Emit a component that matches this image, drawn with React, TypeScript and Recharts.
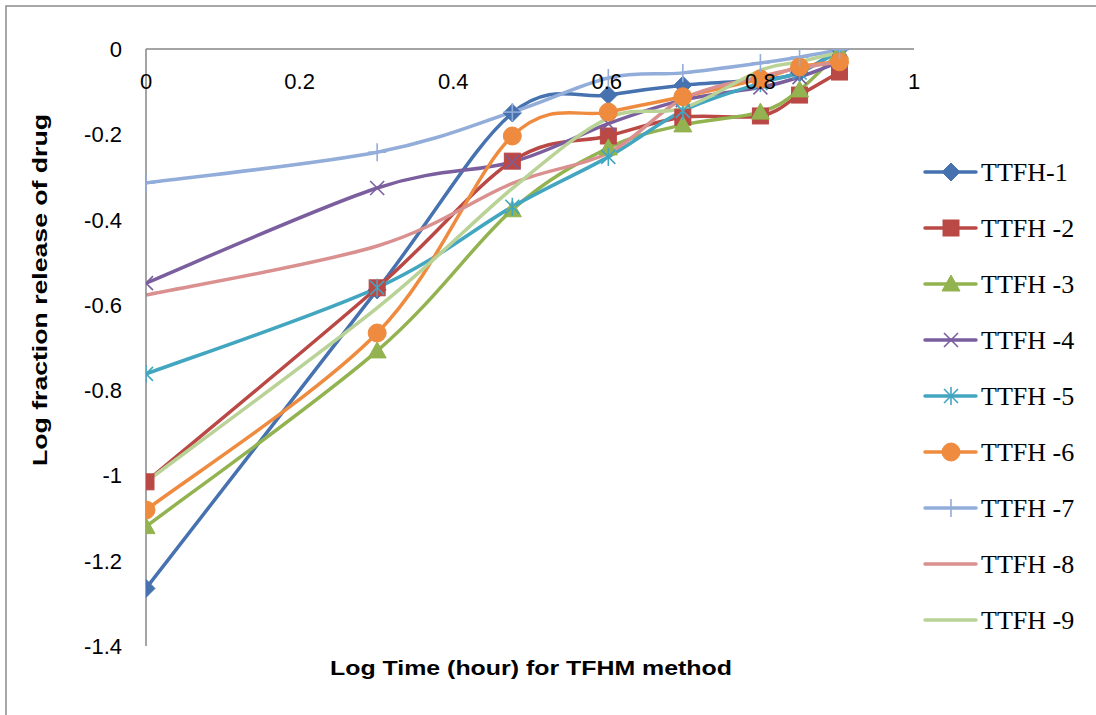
import React from 'react';
import { LineChart, Line, XAxis, YAxis, Legend } from 'recharts';

// ---- data ----
const logTime: number[] = [0, 0.301, 0.477, 0.602, 0.699, 0.8, 0.851, 0.903];
const ttfh1: number[] = [-1.265, -0.565, -0.15, -0.108, -0.085, -0.072, -0.055, 0];
const ttfh2: number[] = [-1.015, -0.56, -0.263, -0.204, -0.16, -0.157, -0.108, -0.054];
const ttfh3: number[] = [-1.12, -0.708, -0.377, -0.232, -0.178, -0.148, -0.096, -0.006];
const ttfh4: number[] = [-0.549, -0.326, -0.265, -0.175, -0.12, -0.09, -0.066, -0.03];
const ttfh5: number[] = [-0.762, -0.56, -0.37, -0.253, -0.145, -0.08, -0.055, -0.005];
const ttfh6: number[] = [-1.081, -0.666, -0.204, -0.148, -0.112, -0.07, -0.042, -0.03];
const ttfh7: number[] = [-0.314, -0.242, -0.148, -0.068, -0.056, -0.033, -0.019, -0.002];
const ttfh8: number[] = [-0.577, -0.462, -0.315, -0.244, -0.117, -0.065, -0.045, -0.03];
const ttfh9: number[] = [-1.015, -0.607, -0.327, -0.162, -0.139, -0.05, -0.03, -0.008];

const xTicks: number[] = [0, 0.2, 0.4, 0.6, 0.8, 1];
const yTicks: number[] = [0, -0.2, -0.4, -0.6, -0.8, -1, -1.2, -1.4];

const seriesNames: string[] = ['TTFH-1', 'TTFH -2', 'TTFH -3', 'TTFH -4', 'TTFH -5', 'TTFH -6', 'TTFH -7', 'TTFH -8', 'TTFH -9'];
const seriesValues: number[][] = [ttfh1, ttfh2, ttfh3, ttfh4, ttfh5, ttfh6, ttfh7, ttfh8, ttfh9];
const seriesColors: string[] = ['#4672B0', '#BA4845', '#92B34F', '#7A5E9E', '#43A6C1', '#EE8B3E', '#92ADD9', '#D9908F', '#B9D296'];
const seriesShapes: string[] = ['diamond', 'square', 'triangle', 'x', 'asterisk', 'circle', 'plus', 'none', 'none'];

const rows = logTime.map((x, i) => {
  const r: Record<string, number> = { x };
  seriesValues.forEach((vals, s) => {
    r['s' + s] = vals[i];
  });
  return r;
});

// Excel-like smoothed curve (Catmull-Rom as cubic Beziers)
const excelSmooth = (context: any) => {
  let pts: number[][] = [];
  return {
    areaStart() {},
    areaEnd() {},
    lineStart() {
      pts = [];
    },
    point(x: number, y: number) {
      pts.push([+x, +y]);
    },
    lineEnd() {
      const n = pts.length;
      if (!n) return;
      context.moveTo(pts[0][0], pts[0][1]);
      for (let i = 0; i < n - 1; i++) {
        const p0 = pts[i - 1] || pts[i];
        const p1 = pts[i];
        const p2 = pts[i + 1];
        const p3 = pts[i + 2] || p2;
        context.bezierCurveTo(
          p1[0] + (p2[0] - p0[0]) / 6,
          p1[1] + (p2[1] - p0[1]) / 6,
          p2[0] - (p3[0] - p1[0]) / 6,
          p2[1] - (p3[1] - p1[1]) / 6,
          p2[0],
          p2[1]
        );
      }
    },
  };
};

const MarkerShape = ({ shape, cx, cy, color }: { shape: string; cx: number; cy: number; color: string }) => {
  if (cx == null || cy == null || isNaN(cx) || isNaN(cy)) return null;
  switch (shape) {
    case 'diamond':
      return <polygon points={`${cx},${cy - 9} ${cx + 9},${cy} ${cx},${cy + 9} ${cx - 9},${cy}`} fill={color} stroke={color} />;
    case 'square':
      return <rect x={cx - 8} y={cy - 8} width={16} height={16} fill={color} stroke={color} />;
    case 'triangle':
      return <polygon points={`${cx},${cy - 9} ${cx + 9},${cy + 7} ${cx - 9},${cy + 7}`} fill={color} stroke={color} />;
    case 'x':
      return (
        <g stroke={color} strokeWidth={1.6}>
          <line x1={cx - 7} y1={cy - 7} x2={cx + 7} y2={cy + 7} />
          <line x1={cx - 7} y1={cy + 7} x2={cx + 7} y2={cy - 7} />
        </g>
      );
    case 'asterisk':
      return (
        <g stroke={color} strokeWidth={1.6}>
          <line x1={cx - 7} y1={cy - 7} x2={cx + 7} y2={cy + 7} />
          <line x1={cx - 7} y1={cy + 7} x2={cx + 7} y2={cy - 7} />
          <line x1={cx} y1={cy - 9} x2={cx} y2={cy + 9} />
        </g>
      );
    case 'circle':
      return <circle cx={cx} cy={cy} r={9} fill={color} stroke={color} />;
    case 'plus':
      return (
        <g stroke={color} strokeWidth={1.6}>
          <line x1={cx} y1={cy - 9} x2={cx} y2={cy + 9} />
          <line x1={cx - 9} y1={cy} x2={cx + 9} y2={cy} />
        </g>
      );
    default:
      return null;
  }
};

const AXIS_FONT = '"Liberation Sans", Arial, sans-serif';
const LEGEND_FONT = '"Liberation Serif", "Times New Roman", serif';

const XTick = (props: any) => {
  const { x, y, payload } = props;
  return (
    <text x={x} y={y + 40} textAnchor="middle" fontSize={22} fontFamily={AXIS_FONT} fill="#000">
      {String(payload.value)}
    </text>
  );
};

const YTick = (props: any) => {
  const { x, y, payload } = props;
  return (
    <text x={x} y={y + 8} textAnchor="end" fontSize={22} fontFamily={AXIS_FONT} fill="#000">
      {String(payload.value)}
    </text>
  );
};

const LegendContent = () => (
  <svg width={178} height={500} style={{ display: 'block' }}>
    {seriesNames.map((name, i) => {
      const cy = 22 + i * 56;
      return (
        <g key={name}>
          <line x1={7} y1={cy} x2={58} y2={cy} stroke={seriesColors[i]} strokeWidth={3.5} strokeLinecap="round" />
          <MarkerShape shape={seriesShapes[i]} cx={33} cy={cy} color={seriesColors[i]} />
          <text x={63} y={cy + 9} fontSize={26} fontFamily={LEGEND_FONT} fill="#000">
            {name}
          </text>
        </g>
      );
    })}
  </svg>
);

export default function App() {
  return (
    <div style={{ position: 'absolute', left: 0, top: 0, width: 1096, height: 715, background: '#fff' }}>
      <LineChart
        width={1096}
        height={715}
        data={rows}
        margin={{ top: 19, right: 182, bottom: 69, left: 46 }}
      >
        <XAxis
          type="number"
          dataKey="x"
          domain={[0, 1]}
          ticks={xTicks}
          orientation="top"
          height={30}
          tickSize={0}
          tickMargin={0}
          tickLine={false}
          interval={0}
          axisLine={{ stroke: '#868686', strokeWidth: 1.5 }}
          tick={<XTick />}
          allowDataOverflow
        />
        <YAxis
          type="number"
          domain={[-1.4, 0]}
          ticks={yTicks}
          width={100}
          tickSize={0}
          tickMargin={24}
          tickLine={false}
          axisLine={{ stroke: '#868686', strokeWidth: 1.5 }}
          tick={<YTick />}
          allowDataOverflow
        />
        <Legend
          layout="vertical"
          align="center"
          verticalAlign="middle"
          wrapperStyle={{ position: 'absolute', left: 918, top: 150, width: 178, height: 500 }}
          content={<LegendContent />}
        />
        {seriesNames.map((name, i) => (
          <Line
            key={name}
            name={name}
            dataKey={'s' + i}
            type={excelSmooth as any}
            stroke={seriesColors[i]}
            strokeWidth={3.5}
            isAnimationActive={false}
            dot={(p: any) => (
              <g key={`${name}-${p.index}`}>
                <MarkerShape shape={seriesShapes[i]} cx={p.cx} cy={p.cy} color={seriesColors[i]} />
              </g>
            )}
            activeDot={false}
          />
        ))}
      </LineChart>
      <svg
        width={1096}
        height={715}
        style={{ position: 'absolute', left: 0, top: 0, pointerEvents: 'none' }}
      >
        <rect x={6} y={6} width={1200} height={800} fill="none" stroke="#8a8a8a" strokeWidth={1.5} />
        <text
          x={531}
          y={675}
          textAnchor="middle"
          fontSize={21}
          fontWeight="bold"
          fontFamily={AXIS_FONT}
          fill="#000"
          textLength={402}
          lengthAdjust="spacingAndGlyphs"
        >
          Log Time (hour) for TFHM method
        </text>
        <text
          transform="translate(47,290) rotate(-90)"
          textAnchor="middle"
          fontSize={21}
          fontWeight="bold"
          fontFamily={AXIS_FONT}
          fill="#000"
          textLength={352}
          lengthAdjust="spacingAndGlyphs"
        >
          Log fraction release of drug
        </text>
      </svg>
    </div>
  );
}
